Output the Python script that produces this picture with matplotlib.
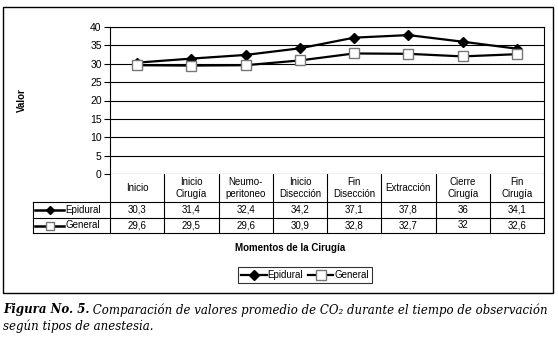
import numpy as np
import matplotlib
matplotlib.use("Agg")
import matplotlib.pyplot as plt
from matplotlib.lines import Line2D
from matplotlib.patches import Rectangle

categories = ["Inicio", "Inicio\nCirugía", "Neumo-\nperitoneo", "Inicio\nDisección",
              "Fin\nDisección", "Extracción", "Cierre\nCirugía", "Fin\nCirugía"]
epidural = [30.3, 31.4, 32.4, 34.2, 37.1, 37.8, 36, 34.1]
general = [29.6, 29.5, 29.6, 30.9, 32.8, 32.7, 32, 32.6]
series_names = ["Epidural", "General"]

W, H = 558, 341
plt.rcParams["font.family"] = ["Liberation Sans", "DejaVu Sans"]
FS = 7


def fx(px):
    return px / W


def fy(py):
    return 1 - py / H


def fmt(v):
    return ("%g" % v).replace(".", ",")


fig = plt.figure(figsize=(W / 100, H / 100), dpi=100)

# outer frame
fig.patches.append(Rectangle((fx(3), fy(293)), fx(550), (293 - 7) / H,
                             transform=fig.transFigure, fill=False,
                             edgecolor="black", lw=1.0))

# main plot
ax = fig.add_axes([fx(110), fy(174), fx(434), (174 - 27) / H])
x = np.arange(len(categories))
ep_style = dict(color="black", lw=1.6, marker="D", ms=5, mfc="black", mec="black")
ge_style = dict(color="black", lw=1.6, marker="s", ms=7, mfc="white", mec="#777777", mew=1.0)
ax.plot(x, epidural, **ep_style, zorder=3)
ax.plot(x, general, **ge_style, zorder=3)
ax.set_xlim(-0.5, len(categories) - 0.5)
ax.set_ylim(0, 40)
ax.set_yticks(range(0, 41, 5))
ax.yaxis.grid(True, color="black", lw=0.8)
ax.set_axisbelow(True)
ax.set_xticks([])
ax.tick_params(axis="y", labelsize=FS + 0.5, length=4, width=0.8, pad=2)
for s in ax.spines.values():
    s.set_linewidth(0.8)
ax.spines["bottom"].set_visible(False)
fig.text(fx(22), fy(100), "Valor", rotation=90, ha="center", va="center",
         fontsize=FS, fontweight="bold")

# data table below the plot
tb = fig.add_axes([fx(33), fy(233), fx(511), (233 - 174) / H])
col_w = 434 / len(categories)
left_units = 77 / col_w
x0 = -0.5 - left_units
tb.set_xlim(x0, len(categories) - 0.5)
tb.set_ylim(233, 174)
tb.axis("off")
edges = np.arange(len(categories) + 1) - 0.5
lk = dict(color="black", lw=0.8, clip_on=False)
for e in edges:
    tb.plot([e, e], [174, 233], **lk)
for yy in [202, 218, 233]:
    tb.plot([x0, edges[-1]], [yy, yy], **lk)
tb.plot([x0, x0], [202, 233], **lk)
for i, c in enumerate(categories):
    tb.text(i, 188, c, ha="center", va="center", fontsize=FS, linespacing=1.3)
rows = [(epidural, ep_style, 210), (general, ge_style, 225.5)]
for name, (vals, st, yy) in zip(series_names, rows):
    for i, v in enumerate(vals):
        tb.text(i, yy, fmt(v), ha="center", va="center", fontsize=FS)
    tb.plot([x0 + 0.04, x0 + 0.58], [yy, yy], color="black", lw=1.8)
    mk = {k: v for k, v in st.items() if k != "lw"}
    mk["ms"] = st["ms"] * 0.75
    tb.plot([x0 + 0.31], [yy], ls="none", **mk)
    tb.text(x0 + 0.59, yy, name, ha="left", va="center", fontsize=FS)

fig.text(fx(290), fy(248), "Momentos de la Cirugía", ha="center", va="center",
         fontsize=FS, fontweight="bold")

handles = [Line2D([], [], **ep_style), Line2D([], [], **ge_style)]
leg = fig.legend(handles, series_names, loc="center", bbox_to_anchor=(fx(305), fy(275)),
                 ncol=2, fontsize=FS, frameon=True, fancybox=False, handlelength=2.6,
                 handletextpad=0.1, columnspacing=0.5, borderpad=0.3, borderaxespad=0)
leg.get_frame().set_edgecolor("black")
leg.get_frame().set_linewidth(0.8)

# caption
cap = dict(fontsize=8.5, family=["DejaVu Serif"], va="center", ha="left", style="italic")
r = fig.canvas.get_renderer()
b = fig.text(fx(3), fy(310), "Figura No. 5.", fontweight="bold", **cap)
bb = b.get_window_extent(renderer=r)
fig.text(bb.x1 / W, fy(310),
         " Comparación de valores promedio de CO₂ durante el tiempo de observación", **cap)
fig.text(fx(3), fy(326), "según tipos de anestesia.", **cap)

fig.savefig("out.png", dpi=100)
